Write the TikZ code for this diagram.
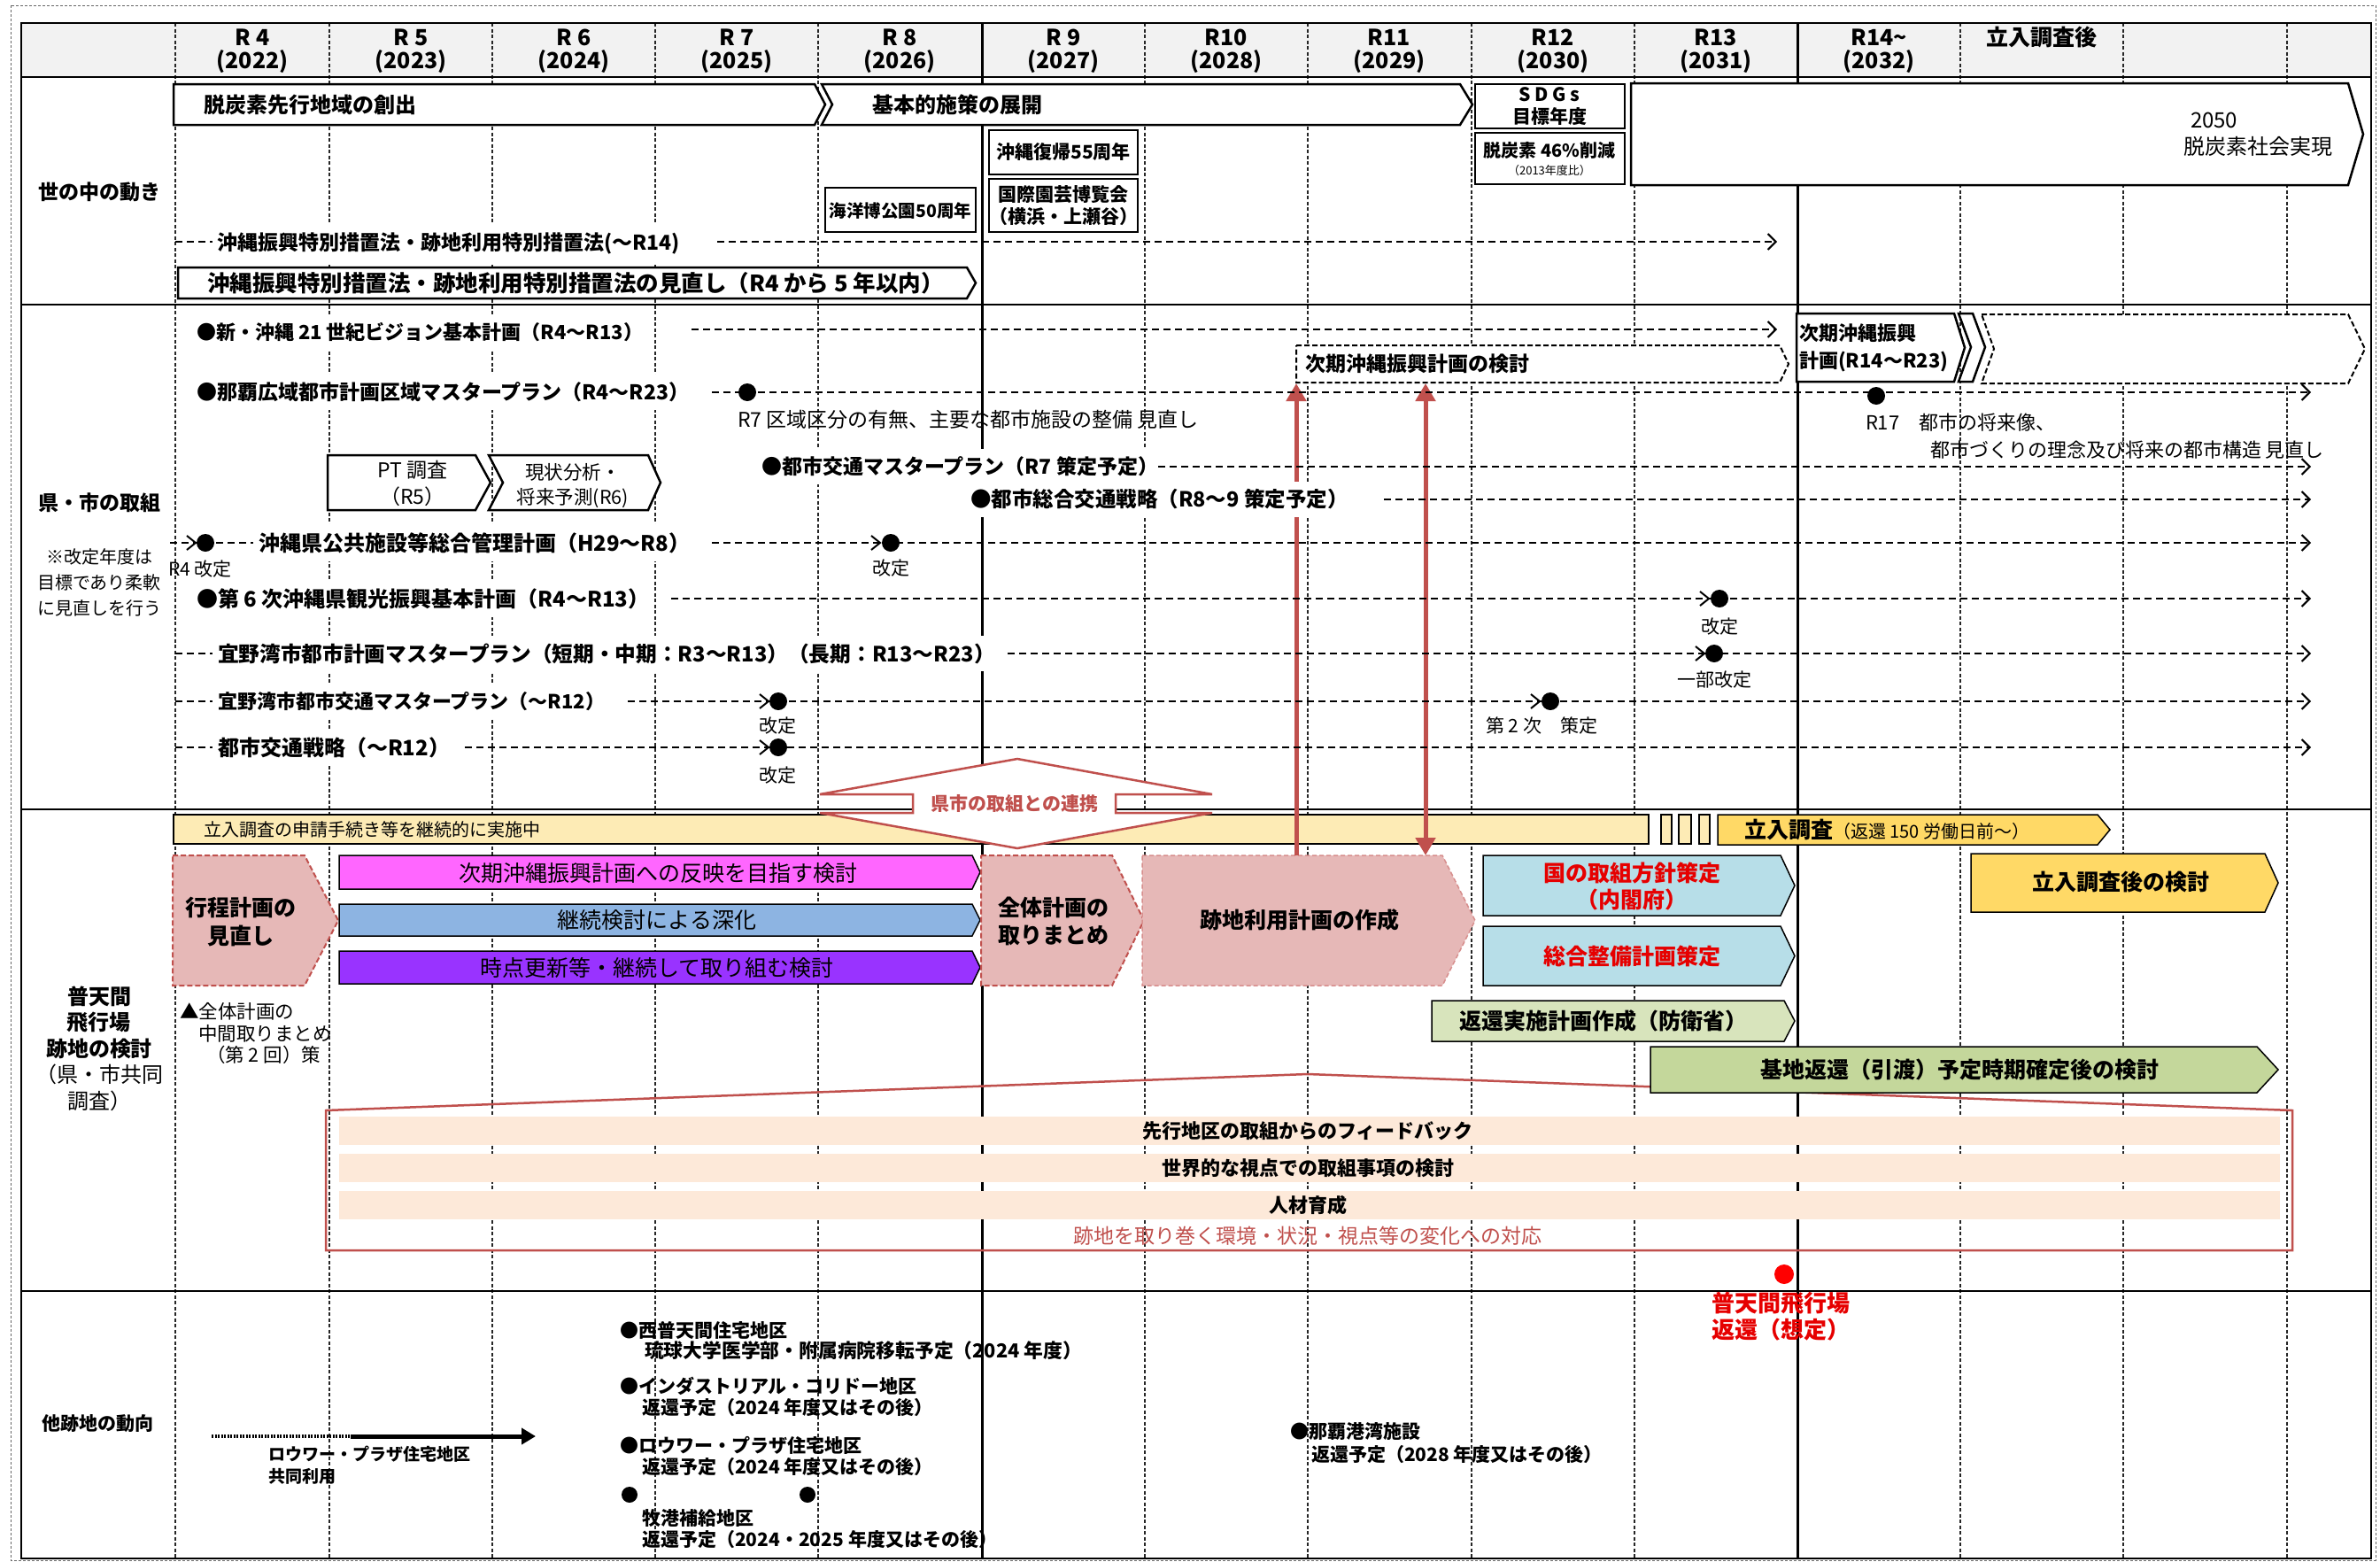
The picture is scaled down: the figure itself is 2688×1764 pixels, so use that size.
\documentclass[tikz,border=0pt]{standalone}
\usepackage{fontspec}
\setmainfont{Noto Sans CJK JP}
\usetikzlibrary{arrows.meta}
\definecolor{hdr}{HTML}{F2F2F2}
\definecolor{rl}{HTML}{C0504D}
\definecolor{pk}{HTML}{E6B8B7}
\definecolor{mg}{HTML}{FF66FF}
\definecolor{bl}{HTML}{8DB4E2}
\definecolor{pu}{HTML}{9933FF}
\definecolor{lb}{HTML}{B7DEE8}
\definecolor{lg}{HTML}{D8E4BC}
\definecolor{gr}{HTML}{C4D79B}
\definecolor{gd}{HTML}{FFD966}
\definecolor{bgy}{HTML}{FDEBB5}
\definecolor{bd}{HTML}{FDE9D9}
\definecolor{rt}{HTML}{E60000}
\newcommand\chevbox[6][]{\path[#1] (#2,#3) -- (#4,#3) -- (#5,{(#3+#6)/2}) -- (#4,#6) -- (#2,#6) -- cycle;}
\newcommand\notchbox[7][]{\path[#1] (#2,#3) -- (#4,#3) -- (#5,{(#3+#6)/2}) -- (#4,#6) -- (#2,#6) -- ({#2+#7},{(#3+#6)/2}) -- cycle;}
\newcommand\gtm[2]{\draw[line width=2pt] ({#1-10},{#2-8}) -- (#1,#2) -- ({#1-10},{#2+8});}
\newcommand\dotm[2]{\fill (#1,#2) circle[radius=10pt];}
\begin{document}
\begin{tikzpicture}[x=1pt,y=-1pt,
  every node/.style={inner sep=0pt,outer sep=0pt},
  fs/.style n args={2}{font=\fontsize{#1}{#2}\selectfont},
  fb/.style n args={2}{font=\fontsize{#1}{#2}\selectfont\bfseries},
  gridl/.style={line width=1.2pt,dash pattern=on 4pt off 2.5pt,black!85},
  dl/.style={line width=2pt,dash pattern=on 8pt off 5pt},
  dla/.style={dl,-{Straight Barb[length=9pt,width=18pt,line width=2pt]}},
  wb/.style={draw=black,line width=2.5pt,fill=white},
  wt/.style={fill=white,inner xsep=4pt,inner ysep=9pt},
  cb/.style={draw=black,line width=1.5pt},
  pkb/.style={fill=pk,draw=rl,line width=2pt,dash pattern=on 6pt off 3pt}]
\useasboundingbox (0,0) rectangle (2688,1764);
\fill[white] (0,0) rectangle (2688,1764);
\fill[hdr] (24,26) rectangle (2678,87);
% grid
\foreach \x in {198,372,556,740,924,1293,1477,1662,1846,2214,2398,2583} \draw[gridl] (\x,26) -- (\x,1760);
\foreach \x in {1109,2030} \draw[line width=3pt] (\x,26) -- (\x,1760);
\draw[line width=2.5pt] (24,26) rectangle (2678,1760);
\foreach \y in {87,344,914,1458} \draw[line width=2.5pt] (24,\y) -- (2678,\y);
% header
\foreach \x/\r/\yr [count=\i] in {285/R 4/2022,464/R 5/2023,648/R 6/2024,832/R 7/2025,1016/R 8/2026,1201/R 9/2027,1385/R10/2028,1569/R11/2029,1754/R12/2030,1938/R13/2031,2122/R14\textasciitilde/2032}{
  \node[fb={25}{29}] (hr\i) at (\x,42) {\r};
  \node[fb={25}{29}] (hy\i) at (\x,70) {(\yr)};}
\node[fb={25}{29}] (hr12) at (2306,42) {立入調査後};
% ---------- world row
\chevbox[wb]{196}{95}{920}{932}{141}
\node[fb={24}{28},anchor=west] (w1) at (230,118) {脱炭素先行地域の創出};
\notchbox[wb]{928}{95}{1649}{1663}{141}{12}
\node[fb={24}{28},anchor=west] (w2) at (985,118) {基本的施策の展開};
\draw[wb] (1666,95) rectangle (1835,145);
\node[fb={21}{25},align=center] (w3) at (1750,120) {S D G s\\目標年度};
\draw[wb] (1666,150) rectangle (1835,208);
\node[fb={20}{24}] (w4) at (1750,170) {脱炭素 46\%削減};
\node[fs={13}{15}] (w5) at (1750,193) {（2013年度比）};
\chevbox[wb]{1842}{94}{2652}{2669}{209}
\node[fs={24}{30},align=left,anchor=west] (w6) at (2466,152) {\hspace*{8pt}2050\\脱炭素社会実現};
\draw[wb] (1117,147) rectangle (1285,197);
\node[fb={21}{25}] (w7) at (1201,172) {沖縄復帰55周年};
\draw[wb] (1117,202) rectangle (1285,262);
\node[fb={21}{25},align=center] (w8) at (1201,232) {国際園芸博覧会\\（横浜・上瀬谷）};
\draw[wb] (932,212) rectangle (1102,262);
\node[fb={19.5}{24}] (w9) at (1017,238) {海洋博公園50周年};
\node[fb={23}{27},fill=white,inner xsep=3pt,inner ysep=12pt,anchor=west] (w10) at (242,275) {沖縄振興特別措置法・跡地利用特別措置法(～R14)};
\coordinate (w10s) at (198,273); \coordinate (w10a) at (810,273); \coordinate (w10b) at (2007,273);
\draw[dl] (w10s) -- (240,273);
\draw[dla] (w10a) -- (w10b);
\chevbox[wb]{201}{302}{1092}{1102}{337}
\node[fb={25.5}{28},anchor=west] (w11) at (234,320) {沖縄振興特別措置法・跡地利用特別措置法の見直し（R4 から 5 年以内）};
% ---------- futenma row
\draw[cb,fill=bgy] (196,920) rectangle (1862,953);
\foreach \a/\b in {1876/1888,1896/1910,1919/1931} \draw[cb,fill=bgy] (\a,920) rectangle (\b,953);
\node[fs={20}{24},anchor=west] (p1) at (230,937) {立入調査の申請手続き等を継続的に実施中};
\chevbox[fill=gd,cb]{1940}{920}{2369}{2383}{954}
\node[anchor=west] (p2) at (1970,937) {\fontsize{25}{30}\selectfont\bfseries 立入調査\fontsize{20}{24}\selectfont\mdseries （返還 150 労働日前～）};
\draw[rl,line width=2.5pt] (368,1412) -- (368,1254) -- (1477,1213) -- (2589,1254) -- (2589,1412) -- cycle;
\fill[bd] (383,1261) rectangle (2575,1293);
\fill[bd] (383,1303) rectangle (2575,1335);
\fill[bd] (383,1345) rectangle (2575,1377);
\chevbox[pkb]{195}{966}{344}{382}{1113}
\chevbox[fill=mg,cb]{383}{966}{1098}{1107}{1004}
\chevbox[fill=bl,cb]{383}{1021}{1098}{1107}{1057}
\chevbox[fill=pu,cb]{383}{1074}{1098}{1107}{1111}
\chevbox[pkb]{1108}{966}{1256}{1292}{1113}
\chevbox[fill=pk,draw=pk!60!rl,line width=1.5pt,dash pattern=on 5pt off 3pt]{1290}{966}{1629}{1666}{1113}
\chevbox[fill=lb,cb]{1675}{966}{2011}{2027}{1034}
\chevbox[fill=lb,cb]{1675}{1046}{2011}{2027}{1113}
\chevbox[fill=lg,cb]{1617}{1130}{2015}{2027}{1176}
\chevbox[fill=gd,cb]{2226}{964}{2558}{2573}{1030}
\chevbox[fill=gr,cb]{1864}{1182}{2549}{2573}{1234}
\node[fb={25}{32},align=center] (p3) at (272,1041) {行程計画の\\見直し};
\node[fs={25}{30}] (p4) at (743,986) {次期沖縄振興計画への反映を目指す検討};
\node[fs={25}{30}] (p5) at (742,1039) {継続検討による深化};
\node[fs={25}{30}] (p6) at (742,1093) {時点更新等・継続して取り組む検討};
\node[fb={25}{31},align=center] (p7) at (1190,1040) {全体計画の\\取りまとめ};
\node[fb={25}{30}] (p8) at (1468,1039) {跡地利用計画の作成};
\node[fb={25}{30},align=center,text=rt] (p9) at (1843,1001) {国の取組方針策定\\（内閣府）};
\node[fb={25}{30},text=rt] (p10) at (1843,1080) {総合整備計画策定};
\node[fb={25}{30}] (p11) at (1811,1153) {返還実施計画作成（防衛省）};
\node[fb={25}{30}] (p12) at (2395,996) {立入調査後の検討};
\node[fb={25}{30}] (p13) at (2213,1208) {基地返還（引渡）予定時期確定後の検討};
\node[fb={22}{26}] (p14) at (1477,1277) {先行地区の取組からのフィードバック};
\node[fb={22}{26}] (p15) at (1477,1319) {世界的な視点での取組事項の検討};
\node[fb={22}{26}] (p16) at (1477,1361) {人材育成};
\node[fs={23}{26},text=rl] (p17) at (1477,1396) {跡地を取り巻く環境・状況・視点等の変化への対応};
\node[fs={21.5}{24.5},anchor=west,align=left] (p18) at (203,1167) {▲全体計画の\\\hspace*{21pt}中間取りまとめ\\\hspace*{30pt}（第 2 回）策};
\fill[red] (2015,1439) circle[radius=11pt];
\node[fb={26}{30},text=rt,anchor=west,align=left] (p19) at (1933,1487) {普天間飛行場\\返還（想定）};
% renkei arrow
\draw[rl,fill=white,line width=2.5pt] (1149,857) -- (1369,897) -- (1260,897) -- (1260,918) -- (1369,918) -- (1149,958) -- (926,918) -- (1031,918) -- (1031,897) -- (926,897) -- cycle;
\node[fb={21}{25},text=rl] (rk) at (1146,908) {県市の取組との連携};
% red arrows
\coordinate (ra1) at (1464,966); \coordinate (ra2) at (1464,433);
\coordinate (rb1) at (1610,433); \coordinate (rb2) at (1610,966);
\draw[rl,line width=5pt,-{Triangle[length=20pt,width=22pt]}] (ra1) -- (ra2);
\draw[rl,line width=5pt,{Triangle[length=20pt,width=22pt]}-{Triangle[length=20pt,width=22pt]}] (rb1) -- (rb2);
% ---------- prefecture / city row
\chevbox[wb]{370}{514}{537}{554}{576}
\node[fs={23}{30},align=center] (k1) at (466,546) {PT 調査\\（R5）};
\notchbox[wb]{552}{514}{732}{746}{576}{16}
\node[fs={21.5}{28},align=center] (k2) at (647,549) {現状分析・\\将来予測(R6)};
\chevbox[fill=white,draw=black,line width=2pt,dash pattern=on 6pt off 3pt]{1464}{390}{2010}{2020}{432}
\node[fb={23}{27},anchor=west] (k3) at (1474,411) {次期沖縄振興計画の検討};
\chevbox[wb]{2029}{354}{2207}{2219}{431}
\path[wb] (2212,354) -- (2228,354) -- (2242,392) -- (2228,431) -- (2212,431) -- (2226,392) -- cycle;
\notchbox[fill=white,draw=black,line width=2pt,dash pattern=on 6pt off 3pt]{2238}{355}{2652}{2671}{433}{14}
\node[fb={22}{31},anchor=west,align=left] (k4) at (2032,393) {次期沖縄振興\\計画(R14～R23)};
% text nodes with white background
\node[fb={22}{27},wt,anchor=west] (c1) at (218,375) {●新・沖縄 21 世紀ビジョン基本計画（R4～R13）};
\node[fb={23}{27},wt,anchor=west] (c2) at (218,443) {●那覇広域都市計画区域マスタープラン（R4～R23）};
\node[fb={23}{27},wt,anchor=west] (c3) at (856,527) {●都市交通マスタープラン（R7 策定予定）};
\node[fb={23.5}{27},wt,anchor=west] (c4) at (1092,564) {●都市総合交通戦略（R8～9 策定予定）};
\node[fb={24}{27},wt,anchor=west] (c5) at (288,613) {沖縄県公共施設等総合管理計画（H29～R8）};
\node[fb={24}{27},wt,anchor=west] (c6) at (218,676) {●第 6 次沖縄県観光振興基本計画（R4～R13）};
\node[fb={23.7}{27},wt,anchor=west] (c7) at (242,738) {宜野湾市都市計画マスタープラン（短期・中期：R3～R13）（長期：R13～R23）};
\node[fb={22}{27},wt,anchor=west] (c8) at (242,792) {宜野湾市都市交通マスタープラン（～R12）};
\node[fb={24}{27},wt,anchor=west] (c9) at (242,844) {都市交通戦略（～R12）};
% dashed lines
\draw[dla] (781,372) -- (2007,372);
\draw[dla] (804,443) -- (2610,443);
\draw[dla] (1308,527) -- (2610,527);
\draw[dla] (1563,564) -- (2610,564);
\draw[dl] (192,613) -- (286,613);
\draw[dla] (804,613) -- (2610,613);
\draw[dla] (758,676) -- (2610,676);
\draw[dl] (198,738) -- (240,738);
\draw[dla] (1138,738) -- (2610,738);
\draw[dl] (198,792) -- (240,792);
\draw[dla] (709,792) -- (2610,792);
\draw[dl] (198,844) -- (240,844);
\draw[dla] (525,844) -- (2610,844);
% markers
\dotm{844}{443}
\dotm{2119}{447}
\gtm{221}{613}\dotm{232}{613}
\gtm{994}{613}\dotm{1006}{613}
\gtm{1930}{676}\dotm{1942}{676}
\gtm{1925}{738}\dotm{1936}{738}
\gtm{868}{792}\dotm{879}{792}
\gtm{1739}{792}\dotm{1751}{792}
\gtm{868}{844}\dotm{879}{844}
% annotations
\node[fs={23}{27},anchor=west] (a1) at (833,474) {R7 区域区分の有無、主要な都市施設の整備 見直し};
\node[fs={22}{27},anchor=west] (a2) at (2107,477) {R17　都市の将来像、};
\node[fs={22}{27},anchor=west] (a3) at (2180,508) {都市づくりの理念及び将来の都市構造 見直し};
\node[fs={21}{25},anchor=west] (a4) at (190,643) {R4 改定};
\node[fs={21}{25}] (a5) at (1006,642) {改定};
\node[fs={21}{25}] (a6) at (1942,708) {改定};
\node[fs={21}{25}] (a7) at (1936,768) {一部改定};
\node[fs={21}{25}] (a8) at (878,820) {改定};
\node[fs={21}{25},anchor=west] (a9) at (1678,820) {第 2 次　策定};
\node[fs={21}{25}] (a10) at (878,876) {改定};
% ---------- other sites row
\coordinate (o0a) at (239,1622); \coordinate (o0b) at (396,1622); \coordinate (o0c) at (605,1622);
\draw[line width=4pt,dash pattern=on 2pt off 1.5pt] (o0a) -- (o0b);
\draw[line width=5pt,-{Triangle[length=16pt,width=18pt]}] (o0b) -- (o0c);
\node[fb={19}{25},anchor=west,align=left] (o11) at (303,1655) {ロウワー・プラザ住宅地区\\共同利用};
\node[fb={21}{24},anchor=west] (o1) at (700,1502) {●西普天間住宅地区};
\node[fb={21.8}{24},anchor=west] (o2) at (728,1525) {琉球大学医学部・附属病院移転予定（2024 年度）};
\node[fb={21}{24},anchor=west] (o3) at (700,1565) {●インダストリアル・コリドー地区};
\node[fb={21}{24},anchor=west] (o4) at (725,1590) {返還予定（2024 年度又はその後）};
\node[fb={21}{24},anchor=west] (o5) at (700,1632) {●ロウワー・プラザ住宅地区};
\node[fb={21}{24},anchor=west] (o6) at (725,1657) {返還予定（2024 年度又はその後）};
\fill (711,1688) circle[radius=9pt];
\fill (912,1688) circle[radius=9pt];
\node[fb={21}{24},anchor=west] (o7) at (725,1715) {牧港補給地区};
\node[fb={21}{24},anchor=west] (o8) at (725,1738) {返還予定（2024・2025 年度又はその後）};
\node[fb={21}{24},anchor=west] (o9) at (1457,1617) {●那覇港湾施設};
\node[fb={21}{24},anchor=west] (o10) at (1481,1643) {返還予定（2028 年度又はその後）};
% ---------- left labels
\node[fb={23}{28}] (L1) at (112,217) {世の中の動き};
\node[fb={23}{28}] (L2) at (112,568) {県・市の取組};
\node[fs={20}{29},align=center] (L3) at (112,658) {※改定年度は\\目標であり柔軟\\に見直しを行う};
\node[fb={24}{29.5},align=center] (L4) at (112,1184) {普天間\\飛行場\\跡地の検討\\{\mdseries（県・市共同}\\{\mdseries 調査）}};
\node[fb={21}{25}] (L5) at (110,1608) {他跡地の動向};
% outer frame
\draw[black!60,line width=1pt,dash pattern=on 3pt off 2pt] (12,6) rectangle (2683,1762);
\end{tikzpicture}
\end{document}
